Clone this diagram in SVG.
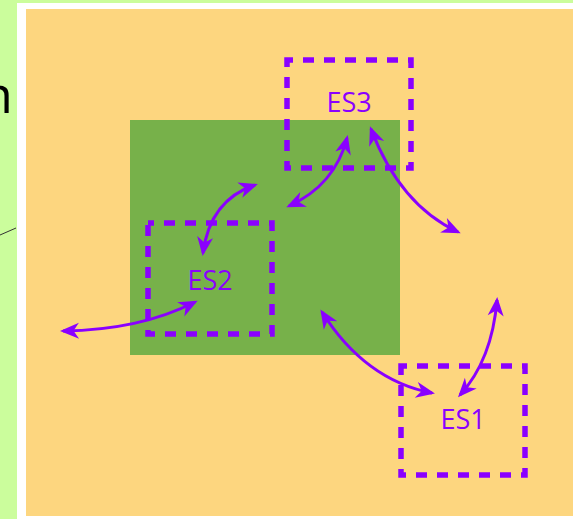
<svg xmlns="http://www.w3.org/2000/svg" width="573" height="519" viewBox="0 0 573 519">
  <defs>
    <marker id="head" viewBox="-18 -9 22 18" refX="0" refY="0" markerWidth="22" markerHeight="18" markerUnits="userSpaceOnUse" orient="auto-start-reverse">
      <path d="M3,0 L-16,-8 L-10.5,0 L-16,8 Z" fill="#8a00ff"/>
    </marker>
  </defs>
  <style>
    .zone { fill: none; stroke: #8a00ff; stroke-width: 5.5; stroke-dasharray: 11 10; stroke-dashoffset: 5; }
    .label { font-family: "Open Sans", "Liberation Sans", sans-serif; font-size: 27px; fill: #8a00ff; text-anchor: middle; }
    .link { fill: none; stroke: #8a00ff; stroke-width: 3; marker-start: url(#head); marker-end: url(#head); }
  </style>

  <!-- page background -->
  <rect x="0" y="0" width="573" height="519" fill="#cbfd9c"/>
  <text x="-19" y="113" font-family="Open Sans, Liberation Sans, sans-serif" font-size="52" fill="#000">n</text>
  <line x1="0" y1="235" x2="16" y2="228" stroke="#333" stroke-width="1"/>

  <!-- framed area -->
  <rect x="17" y="3" width="600" height="530" fill="#ffffff"/>
  <rect x="26" y="9" width="600" height="507" fill="#fdd67f"/>

  <!-- shared region -->
  <rect id="region" x="130" y="120" width="270" height="235" fill="#77b14a"/>

  <g id="es3">
    <rect class="zone" x="287" y="60" width="124" height="108"/>
    <text class="label" x="349" y="112">ES3</text>
  </g>
  <g id="es2">
    <rect class="zone" x="148" y="223" width="124" height="111"/>
    <text class="label" x="210" y="290">ES2</text>
  </g>
  <g id="es1">
    <rect class="zone" x="401" y="366" width="124" height="109"/>
    <text class="label" x="463" y="429">ES1</text>
  </g>

  <g id="connectors">
    <path class="link" d="M63,331 Q140,330 195,302"/>
    <path class="link" d="M203,253 Q210,200 255,185"/>
    <path class="link" d="M289,206 Q335,185 347,138"/>
    <path class="link" d="M371,129 Q400,205 458,232"/>
    <path class="link" d="M322,312 Q365,380 432,393"/>
    <path class="link" d="M460,395 Q492,360 497,300"/>
  </g>
</svg>
